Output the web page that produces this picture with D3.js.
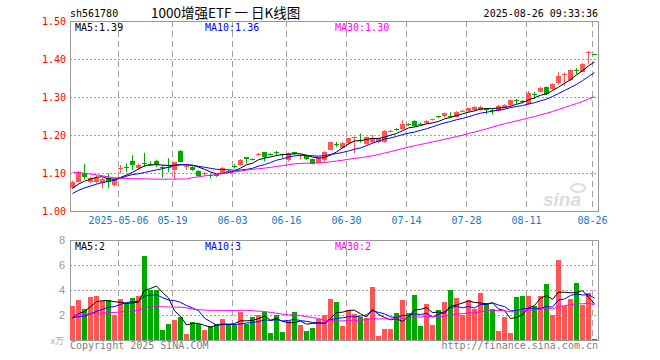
<!DOCTYPE html>
<html>
<head>
<meta charset="utf-8">
<script src="https://cdn.jsdelivr.net/npm/d3@7"></script>
<style>
  body { margin: 0; background: #fff; }
  text { font-family: "DejaVu Sans Mono", monospace; font-size: 10px; }
</style>
</head>
<body>
<svg id="kline" width="660" height="360"></svg>
<script>
// trading days shown on the chart
const dates = [
  "2025-04-21","2025-04-22","2025-04-23","2025-04-24","2025-04-25","2025-04-28","2025-04-29","2025-04-30",
  "2025-05-06","2025-05-07","2025-05-08","2025-05-09","2025-05-12","2025-05-13","2025-05-14","2025-05-15",
  "2025-05-16","2025-05-19","2025-05-20","2025-05-21","2025-05-22","2025-05-23","2025-05-26","2025-05-27",
  "2025-05-28","2025-05-29","2025-05-30","2025-06-03","2025-06-04","2025-06-05","2025-06-06","2025-06-09",
  "2025-06-10","2025-06-11","2025-06-12","2025-06-13","2025-06-16","2025-06-17","2025-06-18","2025-06-19",
  "2025-06-20","2025-06-23","2025-06-24","2025-06-25","2025-06-26","2025-06-27","2025-06-30","2025-07-01",
  "2025-07-02","2025-07-03","2025-07-04","2025-07-07","2025-07-08","2025-07-09","2025-07-10","2025-07-11",
  "2025-07-14","2025-07-15","2025-07-16","2025-07-17","2025-07-18","2025-07-21","2025-07-22","2025-07-23",
  "2025-07-24","2025-07-25","2025-07-28","2025-07-29","2025-07-30","2025-07-31","2025-08-01","2025-08-04",
  "2025-08-05","2025-08-06","2025-08-07","2025-08-08","2025-08-11","2025-08-12","2025-08-13","2025-08-14",
  "2025-08-15","2025-08-18","2025-08-19","2025-08-20","2025-08-21","2025-08-22","2025-08-25","2025-08-26"
];

const open = [
  1.060,1.077,1.101,1.077,1.076,1.073,1.088,1.067,1.111,1.117,
  1.131,1.112,1.126,1.123,1.132,1.116,1.117,1.108,1.158,1.118,
  1.115,1.105,1.098,1.096,1.094,1.099,1.106,1.119,1.121,1.141,
  1.137,1.149,1.154,1.150,1.156,1.150,1.134,1.154,1.147,1.147,
  1.137,1.128,1.134,1.161,1.177,1.167,1.177,1.193,1.186,1.176,
  1.180,1.181,1.182,1.210,1.216,1.215,1.229,1.237,1.230,1.231,
  1.240,1.249,1.248,1.249,1.248,1.263,1.263,1.266,1.266,1.270,
  1.267,1.264,1.272,1.279,1.291,1.290,1.283,1.309,1.314,1.326,
  1.320,1.336,1.359,1.345,1.372,1.368,1.418,1.413
];
const high = [
  1.080,1.105,1.124,1.090,1.094,1.088,1.099,1.086,1.121,1.125,
  1.147,1.125,1.153,1.131,1.135,1.121,1.139,1.130,1.160,1.124,
  1.118,1.107,1.103,1.098,1.096,1.116,1.108,1.123,1.136,1.142,
  1.138,1.153,1.155,1.152,1.158,1.151,1.154,1.155,1.150,1.148,
  1.138,1.142,1.158,1.183,1.182,1.182,1.193,1.196,1.204,1.196,
  1.200,1.193,1.213,1.214,1.218,1.239,1.231,1.239,1.233,1.239,
  1.243,1.251,1.259,1.260,1.263,1.266,1.272,1.276,1.277,1.271,
  1.269,1.279,1.281,1.294,1.295,1.292,1.316,1.313,1.327,1.328,
  1.336,1.365,1.364,1.373,1.376,1.390,1.422,1.413
];
const low = [
  1.057,1.075,1.083,1.073,1.072,1.060,1.060,1.064,1.099,1.103,
  1.108,1.108,1.116,1.119,1.116,1.088,1.103,1.083,1.128,1.108,
  1.106,1.090,1.093,1.086,1.090,1.097,1.100,1.112,1.119,1.125,
  1.133,1.145,1.130,1.146,1.146,1.140,1.130,1.147,1.136,1.134,
  1.123,1.126,1.130,1.160,1.169,1.165,1.175,1.152,1.180,1.174,
  1.178,1.179,1.180,1.207,1.211,1.213,1.224,1.222,1.225,1.229,
  1.238,1.244,1.246,1.244,1.246,1.261,1.261,1.264,1.264,1.255,
  1.254,1.262,1.270,1.277,1.281,1.283,1.279,1.295,1.312,1.305,
  1.318,1.333,1.329,1.343,1.360,1.366,1.388,1.411
];
const close = [
  1.077,1.103,1.090,1.088,1.086,1.084,1.077,1.083,1.112,1.116,
  1.121,1.121,1.125,1.122,1.121,1.115,1.116,1.128,1.130,1.119,
  1.108,1.093,1.099,1.095,1.093,1.114,1.105,1.118,1.134,1.136,
  1.136,1.150,1.140,1.149,1.155,1.149,1.152,1.149,1.148,1.136,
  1.125,1.140,1.154,1.181,1.176,1.180,1.191,1.194,1.184,1.194,
  1.191,1.191,1.211,1.211,1.215,1.228,1.228,1.224,1.229,1.237,
  1.241,1.248,1.257,1.248,1.261,1.264,1.270,1.274,1.274,1.264,
  1.266,1.277,1.279,1.292,1.290,1.289,1.311,1.308,1.325,1.307,
  1.334,1.355,1.360,1.371,1.371,1.388,1.419,1.412
];
// volume, in 万
const volume = [
  2.72,3.20,2.45,3.44,3.50,3.15,3.20,2.00,3.28,3.00,
  3.36,3.52,6.72,4.00,4.00,0.80,1.28,1.60,1.84,0.48,
  1.44,1.28,0.80,1.12,1.28,1.68,1.28,1.20,2.24,1.28,
  1.84,2.00,2.24,0.56,2.00,0.64,1.52,2.24,1.20,0.72,
  0.96,1.68,2.00,3.28,3.04,1.12,2.40,2.08,1.84,1.76,
  4.24,0.32,0.88,0.88,2.16,3.20,2.16,3.60,1.12,2.88,
  1.20,2.40,3.04,4.00,3.36,2.00,3.20,2.48,3.76,2.96,
  2.48,0.72,1.84,0.56,3.44,3.52,3.52,2.72,3.52,4.48,
  2.00,6.40,2.72,3.28,4.56,2.80,3.76,0.08
];
// sessions before the window (only visible through the moving averages)
const histClose = [
  1.140,1.148,1.152,1.143,1.158,1.161,1.154,1.149,1.142,1.133,
  1.125,1.131,1.137,1.128,1.120,1.116,1.122,1.127,1.112,1.010,
  1.020,1.028,1.040,1.035,1.040,1.048,1.052,1.060,1.062
];
const histVolume = [
  2.1,1.8,2.4,2.0,2.6,1.9,2.2,1.7,2.0,1.8,
  1.9,1.6,2.0,1.8,2.2,1.7,1.9,2.0,2.1,4.3,
  2.6,1.9,1.7,1.5,1.55,1.4,1.6,1.5,1.53
];

const tickDates = ["2025-05-06","2025-05-19","2025-06-03","2025-06-16","2025-06-30",
                   "2025-07-14","2025-07-28","2025-08-11","2025-08-26"];
const tickLabels = ["2025-05-06","05-19","06-03","06-16","06-30","07-14","07-28","08-11","08-26"];
const priceTicks = [1.00, 1.10, 1.20, 1.30, 1.40, 1.50];
const volTicks = [2, 4, 6, 8];
const maPeriods = [5, 10, 30];

const maColor = {5: '#000000', 10: '#0000ff', 30: '#ff00ff'};
const upColor = '#ff5555';
const downColor = '#00a800';
const gridColor = '#a0a0a0';

const svg = d3.select('#kline');

// layout
const left = 70, right = 598;
const priceBox = {top: 21, bottom: 211};
const volBox = {top: 240, bottom: 340};

const x = d3.scaleBand()
  .domain(d3.range(dates.length))
  .range([left, left + dates.length * 6 - 1])
  .paddingInner(1 / 6)
  .paddingOuter(0);
const cx = i => x(i) + x.bandwidth() / 2;

const y = d3.scaleLinear().domain([1.0, 1.5]).range([priceBox.bottom, priceBox.top]);
const yv = d3.scaleLinear().domain([0, 8]).range([volBox.bottom, volBox.top]);

// moving average over history + visible values
function movingAvg(hist, vals, n) {
  const all = hist.concat(vals);
  const off = hist.length;
  return vals.map((v, i) => d3.mean(all.slice(off + i - n + 1, off + i + 1)));
}

// header
svg.append('text').attr('x', 70).attr('y', 17).text('sh561780');
svg.append('text').attr('x', 151).attr('y', 18)
  .style('font-family', '"Noto Sans CJK SC", sans-serif')
  .style('font-size', '13.5px')
  .text('1000增强ETF 一 日K线图');
svg.append('text').attr('x', 598).attr('y', 17).attr('text-anchor', 'end')
  .text('2025-08-26 09:33:36');

// sina watermark
const logo = svg.append('g').attr('fill', '#dcdcdc');
logo.append('text').attr('x', 543).attr('y', 206)
  .style('font-family', '"Liberation Sans", sans-serif')
  .style('font-size', '19px').style('font-weight', 'bold').style('font-style', 'italic')
  .text('sina');
logo.append('ellipse').attr('cx', 578).attr('cy', 188).attr('rx', 7).attr('ry', 4)
  .attr('fill', 'none').attr('stroke', '#dcdcdc').attr('stroke-width', 2);

function drawGrid(box, ticks, scale) {
  const g = svg.append('g');
  g.selectAll('line.h')
    .data(ticks.filter(t => scale(t) > box.top + 1 && scale(t) < box.bottom - 1))
    .enter().append('line')
      .attr('x1', left).attr('x2', right)
      .attr('y1', d => Math.round(scale(d)) + 0.5)
      .attr('y2', d => Math.round(scale(d)) + 0.5)
      .attr('stroke', gridColor).attr('stroke-dasharray', '2,2');
  g.selectAll('line.v')
    .data(tickDates)
    .enter().append('line')
      .attr('x1', d => x(dates.indexOf(d)) + 0.5)
      .attr('x2', d => x(dates.indexOf(d)) + 0.5)
      .attr('y1', box.top).attr('y2', box.bottom)
      .attr('stroke', gridColor).attr('stroke-dasharray', '6,4');
  g.append('rect')
    .attr('x', left + 0.5).attr('y', box.top + 0.5)
    .attr('width', right - left).attr('height', box.bottom - box.top)
    .attr('fill', 'none').attr('stroke', '#999');
}

drawGrid(priceBox, priceTicks, y);
drawGrid(volBox, volTicks, yv);

// price axis labels
svg.append('g').selectAll('text')
  .data(priceTicks).enter().append('text')
    .attr('x', 66).attr('y', d => y(d)).attr('dy', '0.35em')
    .attr('text-anchor', 'end').attr('fill', '#ff0000')
    .text(d => d.toFixed(2));

// volume axis labels
svg.append('g').selectAll('text')
  .data(volTicks).enter().append('text')
    .attr('x', 65).attr('y', d => yv(d)).attr('dy', '0.35em')
    .attr('text-anchor', 'end').attr('fill', '#999')
    .style('font-family', '"Liberation Sans", sans-serif').style('font-size', '11px')
    .text(d => d);
svg.append('text').attr('x', 64).attr('y', 344).attr('text-anchor', 'end')
  .attr('fill', '#aaa')
  .style('font-family', '"Noto Sans CJK SC", sans-serif').style('font-size', '9px')
  .text('x万');

// date labels
svg.append('g').selectAll('text')
  .data(tickDates).enter().append('text')
    .attr('x', d => x(dates.indexOf(d)) + 0.5).attr('y', 224)
    .attr('text-anchor', 'middle').attr('fill', '#1478c8')
    .text((d, i) => tickLabels[i]);

// candles
const idx = d3.range(dates.length);
const isUp = i => close[i] >= open[i];
const candles = svg.append('g').selectAll('g')
  .data(idx).enter().append('g');
candles.append('line')
  .attr('x1', i => Math.floor(cx(i)) + 0.5).attr('x2', i => Math.floor(cx(i)) + 0.5)
  .attr('y1', i => y(high[i])).attr('y2', i => y(low[i]))
  .attr('stroke', i => isUp(i) ? upColor : downColor);
candles.append('rect')
  .attr('x', i => x(i))
  .attr('width', x.bandwidth())
  .attr('y', i => Math.round(y(Math.max(open[i], close[i]))))
  .attr('height', i => Math.max(1, Math.round(Math.abs(y(open[i]) - y(close[i])))))
  .attr('fill', i => isUp(i) ? upColor : downColor);

// volume bars
svg.append('g').selectAll('rect')
  .data(idx).enter().append('rect')
    .attr('x', i => x(i))
    .attr('width', x.bandwidth())
    .attr('y', i => Math.round(yv(volume[i])))
    .attr('height', i => volBox.bottom - Math.round(yv(volume[i])))
    .attr('fill', i => isUp(i) ? upColor : downColor);

// moving average lines
const priceMA = {}, volMA = {};
maPeriods.forEach(n => {
  priceMA[n] = movingAvg(histClose, close, n);
  volMA[n] = movingAvg(histVolume, volume, n);
});

const priceLine = d3.line().x((d, i) => cx(i)).y(d => y(d));
const volLine = d3.line().x((d, i) => cx(i)).y(d => yv(d));

maPeriods.forEach(n => {
  svg.append('path').attr('d', priceLine(priceMA[n]))
    .attr('fill', 'none').attr('stroke', maColor[n]).attr('stroke-width', 1);
  svg.append('path').attr('d', volLine(volMA[n]))
    .attr('fill', 'none').attr('stroke', maColor[n]).attr('stroke-width', 1);
});

// MA captions
const capX = {5: 75, 10: 205, 30: 335};
maPeriods.forEach(n => {
  const last = priceMA[n][priceMA[n].length - 1];
  svg.append('text').attr('x', capX[n]).attr('y', 31).attr('fill', maColor[n])
    .text(`MA${n}:${last.toFixed(2)}`);
  const lastV = volMA[n][volMA[n].length - 1];
  svg.append('text').attr('x', capX[n]).attr('y', 250).attr('fill', maColor[n])
    .text(`MA${n}:${Math.floor(lastV)}`);
});

// footer
svg.append('text').attr('x', 70).attr('y', 349).attr('fill', '#808080')
  .text('Copyright 2025 SINA.COM');
svg.append('text').attr('x', 598).attr('y', 349).attr('text-anchor', 'end').attr('fill', '#808080')
  .text('http://finance.sina.com.cn');
</script>
</body>
</html>
